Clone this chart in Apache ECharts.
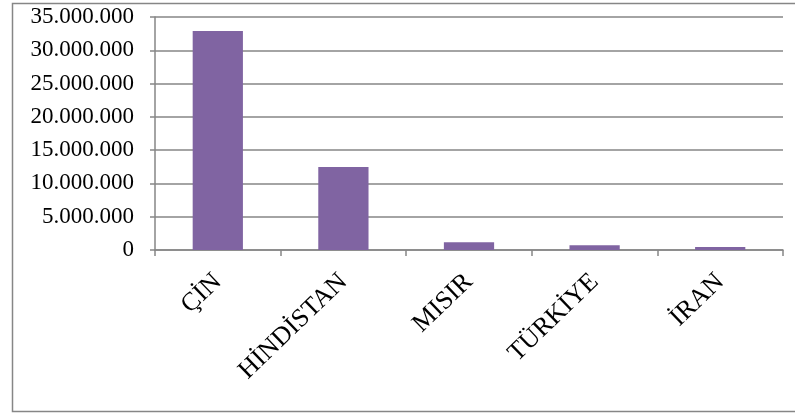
<!DOCTYPE html>
<html>
<head>
    <meta charset="utf-8">
    <title>Ülkeler</title>
    <script src="https://cdn.jsdelivr.net/npm/echarts@6/dist/echarts.min.js"></script>
    <style>
        html, body { margin: 0; padding: 0; background: #fff; }
        #main { width: 795px; height: 414px; }
    </style>
</head>
<body>
<div id="main"></div>
<script>
    // veriler
    var ulkeler = ['ÇİN', 'HİNDİSTAN', 'MISIR', 'TÜRKİYE', 'İRAN'];
    var degerler = [32900000, 12450000, 1150000, 700000, 450000];

    var gri = '#868686';
    var yazi = 'Liberation Serif';

    function noktali(v) {
        return String(v).replace(/\B(?=(\d{3})+(?!\d))/g, '.');
    }

    var myChart = echarts.init(document.getElementById('main'));
    var option = {
        animation: false,
        graphic: [{
            type: 'rect',
            shape: { x: 12.5, y: 3.5, width: 800, height: 408 },
            style: { fill: 'none', stroke: gri, lineWidth: 1.5 },
            silent: true
        }],
        grid: { left: 155, top: 17, right: 12, bottom: 164 },
        xAxis: {
            type: 'category',
            data: ulkeler,
            axisLine: { lineStyle: { color: gri, width: 1.5 } },
            axisTick: { show: true, length: 6, lineStyle: { color: gri, width: 1.5 } },
            axisLabel: {
                rotate: 44, margin: 28, color: '#000',
                fontFamily: yazi, fontSize: 26, interval: 0
            }
        },
        yAxis: {
            type: 'value',
            min: 0, max: 35000000, interval: 5000000,
            axisLine: { show: true, lineStyle: { color: gri, width: 1.5 } },
            axisTick: { show: true, length: 5, lineStyle: { color: gri, width: 1.5 } },
            splitLine: { lineStyle: { color: gri, width: 1.5 } },
            axisLabel: {
                margin: 21, color: '#000', fontFamily: yazi, fontSize: 23,
                formatter: noktali
            }
        },
        series: [{
            type: 'bar',
            data: degerler,
            barWidth: '40%',
            itemStyle: { color: '#8064A2' }
        }]
    };
    myChart.setOption(option);
</script>
</body>
</html>
